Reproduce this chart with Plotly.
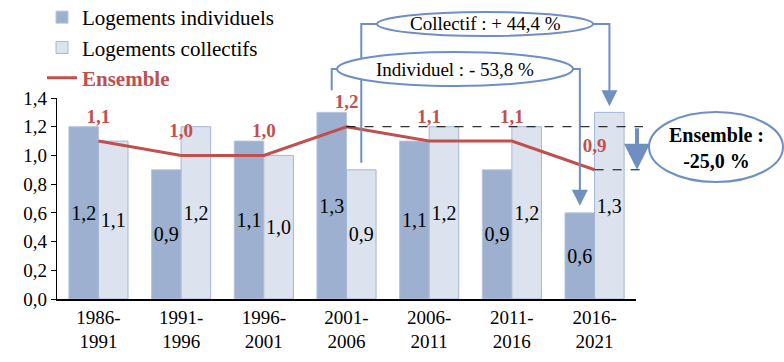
import plotly.graph_objects as go

periods = ["1986-1991", "1991-1996", "1996-2001", "2001-2006", "2006-2011", "2011-2016", "2016-2021"]
tick_labels = ["1986-<br>1991", "1991-<br>1996", "1996-<br>2001", "2001-<br>2006", "2006-<br>2011", "2011-<br>2016", "2016-<br>2021"]
individuels = [1.2, 0.9, 1.1, 1.3, 1.1, 0.9, 0.6]
collectifs = [1.1, 1.2, 1.0, 0.9, 1.2, 1.2, 1.3]
ensemble = [1.1, 1.0, 1.0, 1.2, 1.1, 1.1, 0.9]
evo_collectif = "Collectif : + 44,4 %"
evo_individuel = "Individuel : - 53,8 %"
evo_ensemble = "<b>Ensemble :<br>-25,0 %</b>"

FONT = "Liberation Serif"
RED = "#C0504D"
DARK = "#9DB0CF"
LIGHT = "#DDE3EE"
EDGE = "#A3B6D6"
BLUE = "#6F8FC2"

W, H = 784, 362
L, R, T, B = 57, 148, 98, 63
YMAX = 1.4
N = len(periods)
pw = W - L - R
ph = H - T - B

# helpers converting to paper coordinates
def px(x):  # pixel x -> paper
    return (x - L) / pw
def py(y):  # pixel y -> paper
    return (H - B - y) / ph
def cx(i, off=0.0):  # category index (+offset in category units) -> paper
    return (i + 0.5 + off) / N
def vy(v):  # data value -> paper
    return v / YMAX

bargap = 0.285
half = (1 - bargap) / 4  # centre offset of each bar in category units

fig = go.Figure()
fig.add_trace(go.Bar(
    x=periods, y=individuels, name="Logements individuels",
    marker=dict(color=DARK, line=dict(color="#B7C5DE", width=1)),
    text=individuels, texttemplate="%{y:.1f}", textposition="inside", textangle=0,
    constraintext="none",
    insidetextanchor="middle", textfont=dict(family=FONT, size=20, color="black"),
    legendgroup="a", hoverinfo="skip"))
fig.add_trace(go.Bar(
    x=periods, y=collectifs, name="Logements collectifs",
    marker=dict(color=LIGHT, line=dict(color=EDGE, width=1)),
    text=collectifs, texttemplate="%{y:.1f}", textposition="inside", textangle=0,
    constraintext="none",
    insidetextanchor="middle", textfont=dict(family=FONT, size=20, color="black"),
    legendgroup="b", hoverinfo="skip"))
fig.add_trace(go.Scatter(
    x=periods, y=ensemble, name="<b><span style='color:%s'>Ensemble</span></b>" % RED,
    mode="lines+markers+text", line=dict(color=RED, width=3),
    marker=dict(size=20, color="rgba(0,0,0,0)"),
    texttemplate="<b>%{y:.1f}</b>", textposition="top center",
    textfont=dict(family=FONT, size=19, color=RED),
    legendgroup="c", cliponaxis=False, hoverinfo="skip"))

shapes = []
annotations = []
line_style = dict(color=BLUE, width=2)

def label(x, y, text, size):
    annotations.append(dict(xref="paper", yref="paper", x=x, y=y, text=text,
                            xanchor="center", yanchor="middle", showarrow=False,
                            font=dict(family=FONT, size=size, color="black")))

def arrow_head(x, y, length, width, size):
    annotations.append(dict(xref="paper", yref="paper", x=x, y=y, ax=0, ay=-length,
                            showarrow=True, arrowhead=2, arrowsize=size, arrowwidth=width,
                            arrowcolor=BLUE, text=""))

i_first, i_last = 3, 6
# Collectif ellipse and connectors
ec_y = py(24)
shapes.append(dict(type="path", xref="paper", yref="paper", layer="above", line=line_style,
                   path="M %f %f L %f %f L %f %f" % (px(377), ec_y, cx(i_first, half), ec_y,
                                                     cx(i_first, half), vy(collectifs[i_first]) + 0.035)))
shapes.append(dict(type="path", xref="paper", yref="paper", layer="above", line=line_style,
                   path="M %f %f L %f %f L %f %f" % (px(593), ec_y, cx(i_last, half), ec_y,
                                                     cx(i_last, half), vy(collectifs[i_last]) + 0.1)))
shapes.append(dict(type="circle", xref="paper", yref="paper", x0=px(377), x1=px(593),
                   y0=py(12), y1=py(36), line=line_style, fillcolor="white", layer="above"))
arrow_head(cx(i_last, half), vy(collectifs[i_last]) + 0.03, 16, 2, 1.6)
label(px(485), ec_y, evo_collectif, 19)

# Individuel ellipse and connectors
ei_y = py(69)
shapes.append(dict(type="path", xref="paper", yref="paper", layer="above", line=line_style,
                   path="M %f %f L %f %f L %f %f" % (px(337), ei_y, cx(i_first, -half), ei_y,
                                                     cx(i_first, -half), vy(individuels[i_first]) + 0.11)))
shapes.append(dict(type="path", xref="paper", yref="paper", layer="above", line=line_style,
                   path="M %f %f L %f %f L %f %f" % (px(573), ei_y, cx(i_last, -half), ei_y,
                                                     cx(i_last, -half), vy(individuels[i_last]) + 0.1)))
shapes.append(dict(type="circle", xref="paper", yref="paper", x0=px(337), x1=px(573),
                   y0=py(52), y1=py(86), line=line_style, fillcolor="white", layer="above"))
arrow_head(cx(i_last, -half), vy(individuels[i_last]) + 0.035, 16, 2, 1.6)
label(px(455), ei_y, evo_individuel, 19)

# Ensemble dashed lines and thick arrow
dash_end = px(643)
shapes.append(dict(type="line", xref="paper", yref="paper", layer="above",
                   x0=cx(i_first), x1=dash_end, y0=vy(ensemble[i_first]), y1=vy(ensemble[i_first]),
                   line=dict(color="black", width=1, dash="dash")))
shapes.append(dict(type="line", xref="paper", yref="paper", layer="above",
                   x0=cx(i_last), x1=dash_end, y0=vy(ensemble[i_last]), y1=vy(ensemble[i_last]),
                   line=dict(color="black", width=1, dash="dash")))
arrow_len = (vy(ensemble[i_first]) - vy(ensemble[i_last])) * ph
arrow_head(px(637), vy(ensemble[i_last]), arrow_len, 4, 1.3)
shapes.append(dict(type="circle", xref="paper", yref="paper", x0=px(649), x1=px(783),
                   y0=py(112), y1=py(182), line=line_style, fillcolor="white", layer="above"))
label(px(716), py(148), evo_ensemble, 20)

fig.update_layout(
    width=W, height=H,
    margin=dict(l=L, r=R, t=T, b=B, autoexpand=False),
    paper_bgcolor="white", plot_bgcolor="white",
    barmode="group", bargap=bargap, bargroupgap=0,
    separators=", ",
    font=dict(family=FONT, size=19, color="black"),
    showlegend=True,
    legend=dict(x=px(42), y=py(-3), xanchor="left", yanchor="top",
                font=dict(family=FONT, size=21, color="black"),
                tracegroupgap=0, bgcolor="rgba(0,0,0,0)"),
    xaxis=dict(tickmode="array", tickvals=periods, ticktext=tick_labels,
               showline=True, linecolor="black", linewidth=1.5, ticks="",
               showgrid=False, tickfont=dict(family=FONT, size=19)),
    yaxis=dict(range=[0, YMAX], dtick=0.2, tickformat=".1f",
               showline=True, linecolor="black", linewidth=1.2, ticks="outside",
               ticklen=5, tickcolor="black", showgrid=False, zeroline=False,
               tickfont=dict(family=FONT, size=19)),
    shapes=shapes, annotations=annotations,
)

fig.write_html("out.html", config={"displayModeBar": False},
               post_script="document.body.style.margin='0';")
